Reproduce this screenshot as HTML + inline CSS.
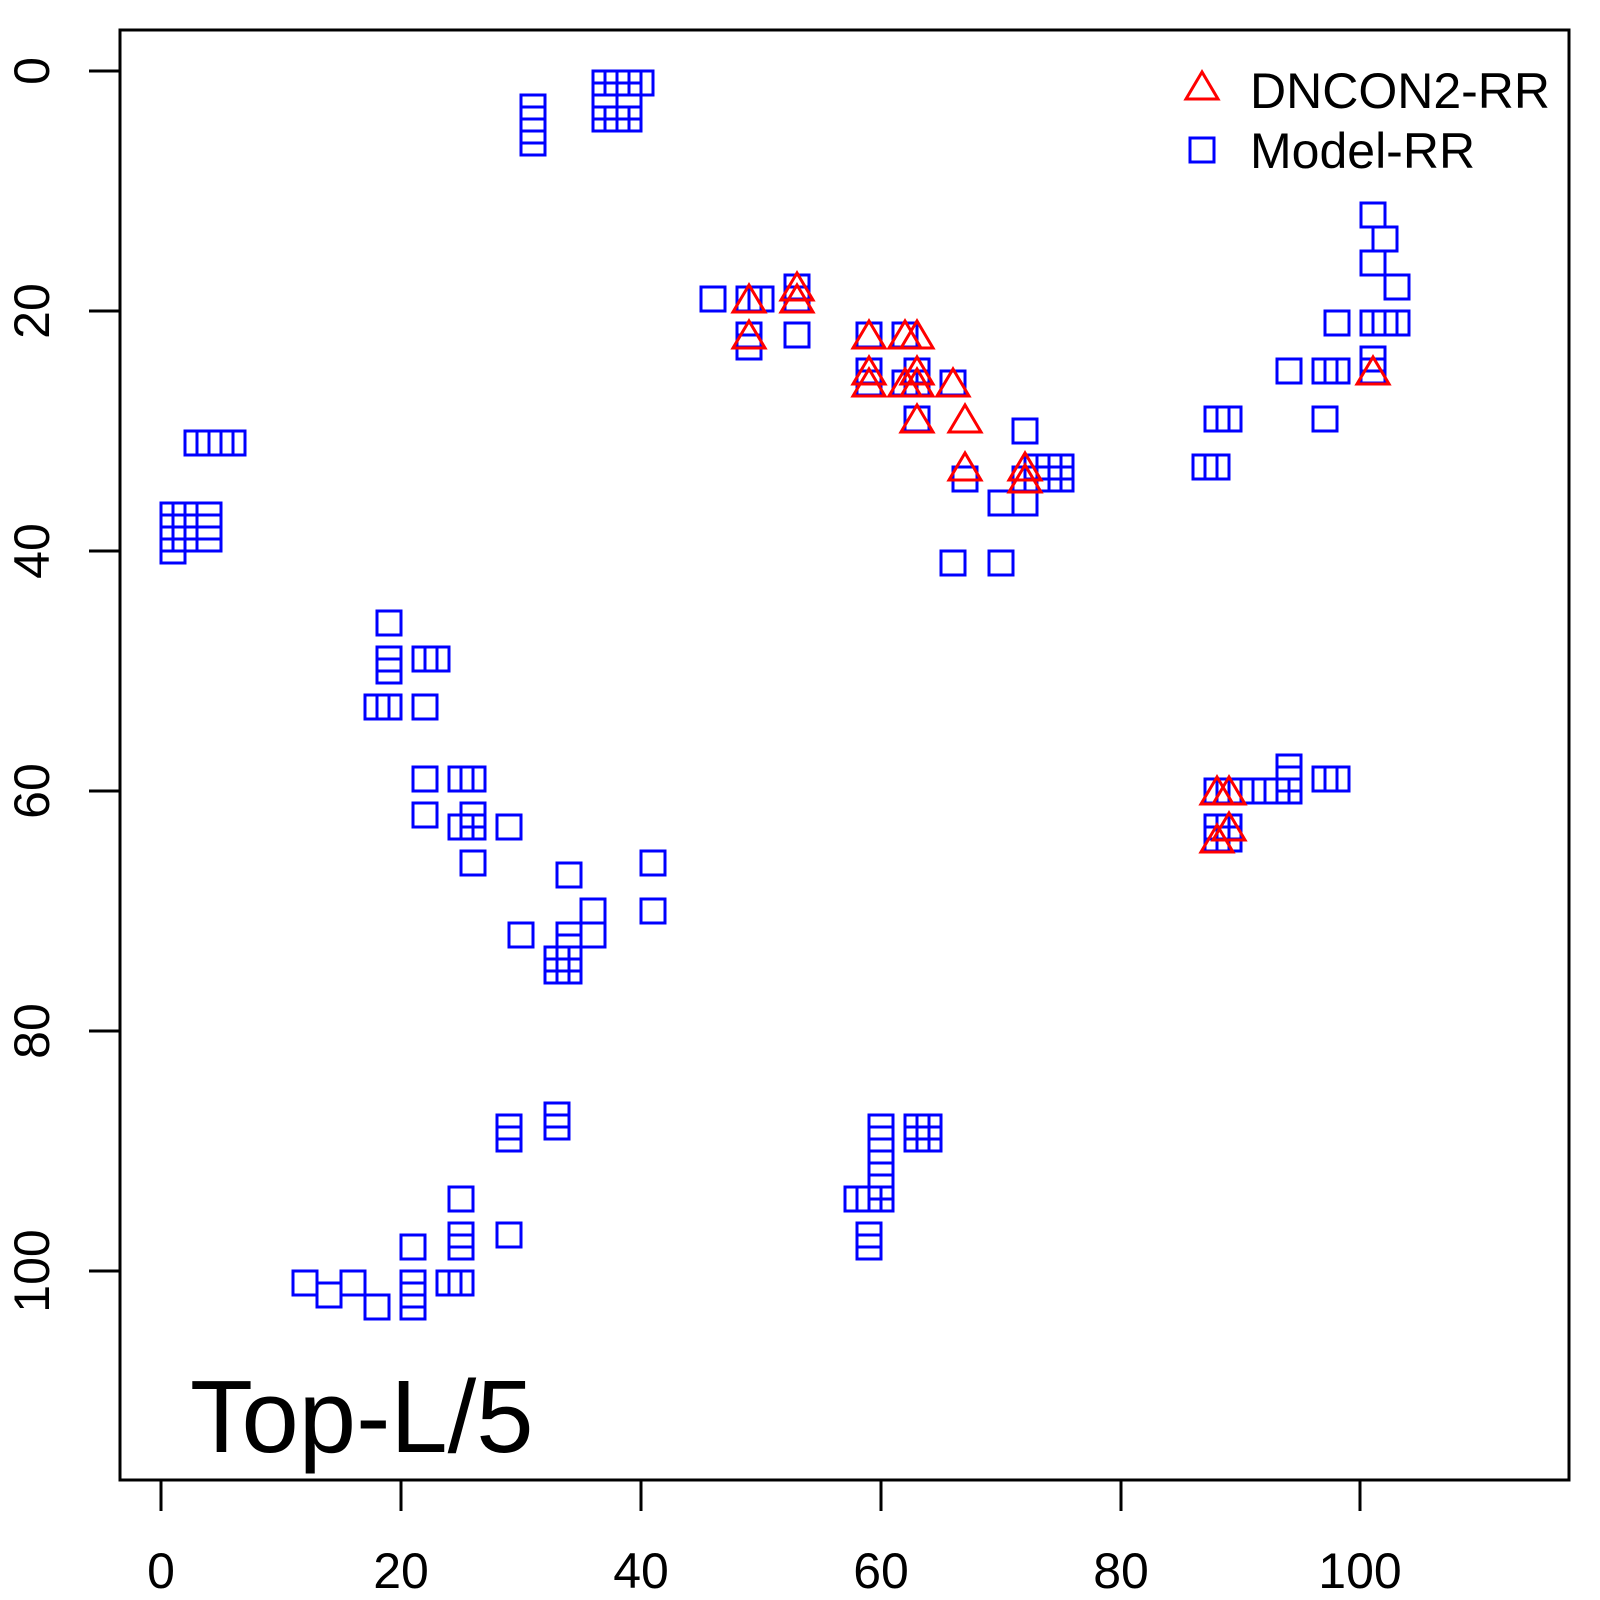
<!DOCTYPE html>
<html><head><meta charset="utf-8"><style>html,body{margin:0;padding:0;background:#fff}svg{display:block}</style></head>
<body>
<svg id="s" width="1600" height="1600" viewBox="0 0 1600 1600" xmlns="http://www.w3.org/2000/svg" font-family="Liberation Sans, Arial, sans-serif">
<rect width="1600" height="1600" fill="#fff"/>
<g id="pts"></g>
<rect x="120" y="30" width="1449" height="1450" fill="none" stroke="#000" stroke-width="3"/>
<g stroke="#000" stroke-width="3">
<line x1="161" y1="1480" x2="161" y2="1511"/><line x1="401" y1="1480" x2="401" y2="1511"/><line x1="641" y1="1480" x2="641" y2="1511"/><line x1="881" y1="1480" x2="881" y2="1511"/><line x1="1121" y1="1480" x2="1121" y2="1511"/><line x1="1360" y1="1480" x2="1360" y2="1511"/>
<line x1="89" y1="71" x2="120" y2="71"/><line x1="89" y1="311" x2="120" y2="311"/><line x1="89" y1="551" x2="120" y2="551"/><line x1="89" y1="791" x2="120" y2="791"/><line x1="89" y1="1031" x2="120" y2="1031"/><line x1="89" y1="1271" x2="120" y2="1271"/>
</g>
<g font-size="50" text-anchor="middle" fill="#000">
<text x="161" y="1588">0</text><text x="401" y="1588">20</text><text x="641" y="1588">40</text><text x="881" y="1588">60</text><text x="1121" y="1588">80</text><text x="1360" y="1588">100</text>
<text transform="translate(49,71) rotate(-90)">0</text>
<text transform="translate(49,311) rotate(-90)">20</text>
<text transform="translate(49,551) rotate(-90)">40</text>
<text transform="translate(49,791) rotate(-90)">60</text>
<text transform="translate(49,1031) rotate(-90)">80</text>
<text transform="translate(49,1271) rotate(-90)">100</text>
</g>
<text x="190" y="1452" font-size="103" fill="#000">Top-L/5</text>
<polygon points="1202,72 1186,99 1218,99" fill="none" stroke="#f00" stroke-width="3"/>
<rect x="1190" y="138" width="24" height="24" fill="none" stroke="#00f" stroke-width="3"/>
<text x="1250" y="108" font-size="50" fill="#000">DNCON2-RR</text>
<text x="1250" y="168" font-size="50" fill="#000">Model-RR</text>
</svg>
<script>
var sq=[[31,3],[31,4],[31,5],[31,6],[37,1],[37,2],[37,3],[37,4],[38,4],[38,1],[39,1],[39,2],[39,3],[39,4],[40,1],
[3,31],[4,31],[5,31],[6,31],[1,37],[1,38],[1,39],[1,40],[2,37],[2,38],[2,39],[4,37],[4,38],[4,39],
[19,46],[19,49],[19,50],[22,49],[23,49],[18,53],[19,53],[22,53],
[22,59],[22,62],[25,59],[26,59],[26,62],[25,63],[26,63],[26,66],[29,63],
[30,72],[34,67],[36,70],[36,72],[34,72],[34,73],[33,74],[34,74],[33,75],[34,75],[41,66],[41,70],
[12,101],[14,102],[16,101],[18,103],[21,98],[21,101],[21,102],[21,103],[24,101],[25,101],[25,94],[25,97],[25,98],[29,88],[29,89],[29,97],[33,87],[33,88],
[58,94],[59,94],[60,94],[59,97],[59,98],[60,88],[60,89],[60,90],[60,91],[60,92],[60,93],[63,88],[63,89],[64,88],[64,89],
[46,19],[49,19],[50,19],[49,22],[49,23],[53,18],[53,19],[53,22],
[59,22],[59,25],[59,26],[62,22],[62,26],[63,25],[63,26],[63,29],[66,26],[67,34],[66,41],[70,41],[70,36],[72,30],[72,34],[72,36],[73,33],[74,33],[75,33],[73,34],[74,34],[75,34],
[101,12],[102,14],[101,16],[103,18],[98,21],[101,21],[102,21],[103,21],[94,25],[97,25],[98,25],[101,24],[101,25],[97,29],[88,29],[89,29],[87,33],[88,33],
[88,60],[89,60],[90,60],[91,60],[92,60],[93,60],[94,58],[94,59],[94,60],[97,59],[98,59],[88,63],[88,64],[89,63],[89,64]];
var tr=[[49,19],[49,22],[53,18],[53,19],[59,22],[59,25],[59,26],[62,22],[63,22],[62,26],[63,25],[63,26],[63,29],[66,26],[67,29],[67,33],[72,33],[72,34],[101,25],[88,60],[89,60],[88,64],[89,63]];
var h='';
sq.forEach(function(p){var x=161+p[0]*12,y=71+p[1]*12;h+='<rect x="'+(x-12)+'" y="'+(y-12)+'" width="24" height="24" fill="none" stroke="#00f" stroke-width="3"/>';});
tr.forEach(function(p){var x=161+p[0]*12,y=71+p[1]*12;h+='<polygon points="'+x+','+(y-14)+' '+(x-16)+','+(y+13)+' '+(x+16)+','+(y+13)+'" fill="none" stroke="#f00" stroke-width="3"/>';});
document.getElementById('pts').innerHTML=h;
</script>
</body></html>
